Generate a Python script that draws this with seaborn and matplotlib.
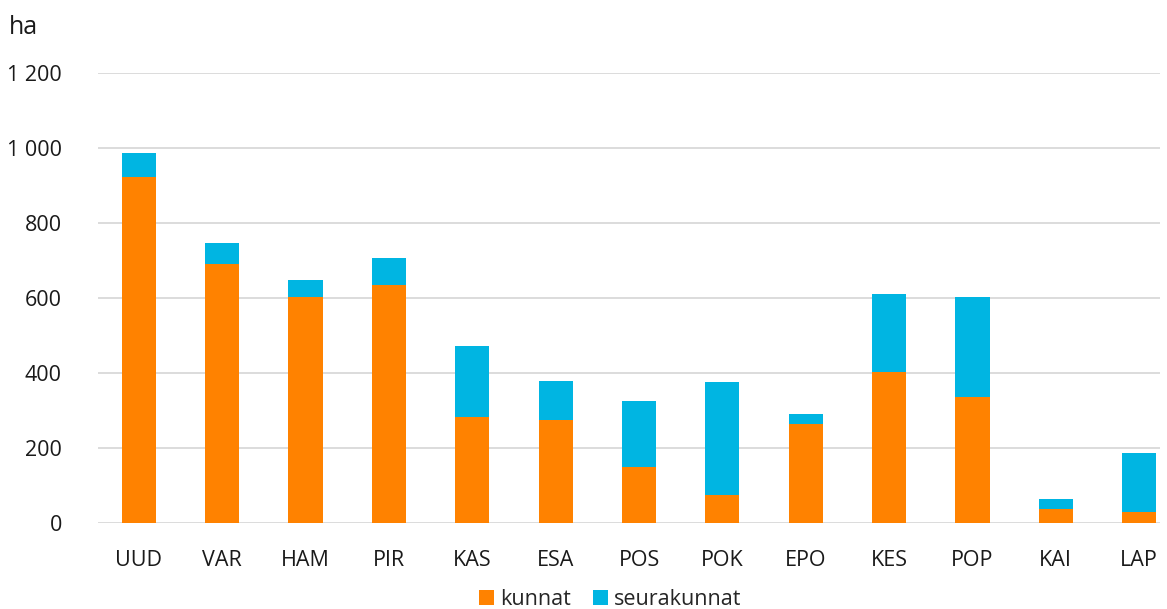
#!/usr/bin/env python3

import numpy as np
import pandas as pd
import matplotlib
matplotlib.use("Agg")
import matplotlib.pyplot as plt
import seaborn as sns
from matplotlib.ticker import FuncFormatter

# data
regions = ["UUD", "VAR", "HAM", "PIR", "KAS", "ESA", "POS",
           "POK", "EPO", "KES", "POP", "KAI", "LAP"]
kunnat = [924, 690, 602, 636, 283, 275, 149, 74, 263, 403, 335, 37, 31]
seurakunnat = [64, 58, 45, 72, 189, 103, 176, 302, 28, 207, 267, 27, 155]

orange = "#FF8200"
blue = "#00B5E2"

sns.set_theme(style="white")
plt.rcParams["font.family"] = ["Open Sans", "DejaVu Sans"]

df = pd.DataFrame({"region": regions, "kunnat": kunnat,
                   "seurakunnat": seurakunnat})
df["total"] = df["kunnat"] + df["seurakunnat"]

fig = plt.figure(figsize=(11.67, 6.09), dpi=100)
ax = fig.add_axes([0.084, 0.141, 0.91, 0.739])

# stacked bars: draw total first, then kunnat on top of it
sns.barplot(data=df, x="region", y="total", color=blue, width=0.41,
            saturation=1, linewidth=0, ax=ax, label="seurakunnat", zorder=3)
sns.barplot(data=df, x="region", y="kunnat", color=orange, width=0.41,
            saturation=1, linewidth=0, ax=ax, label="kunnat", zorder=3)

ax.set_ylim(0, 1200)
ax.set_xlim(-0.49, 12.25)
ax.set_yticks(np.arange(0, 1201, 200))
ax.yaxis.set_major_formatter(FuncFormatter(lambda v, p: f"{int(v):,}".replace(",", " ")))
ax.grid(axis="y", color="#D9D9D9", linewidth=1.3, zorder=0)
ax.set_axisbelow(True)
for s in ax.spines.values():
    s.set_visible(False)
ax.set_xlabel("")
ax.set_ylabel("")
ax.tick_params(axis="y", labelsize=15.5, pad=26, colors="#1a1a1a", length=0)
ax.tick_params(axis="x", labelsize=15.5, pad=19, colors="#1a1a1a", length=0)

fig.text(0.008, 0.955, "ha", fontsize=18, color="#1a1a1a", va="center")

handles, labels = ax.get_legend_handles_labels()
order = [labels.index("kunnat"), labels.index("seurakunnat")]
ax.legend([handles[i] for i in order], [labels[i] for i in order],
          loc="center", bbox_to_anchor=(0.523, 0.016), bbox_transform=fig.transFigure,
          ncol=2, frameon=False, fontsize=15.5, handlelength=0.7, handleheight=0.7,
          handletextpad=0.3, columnspacing=1.0)

fig.savefig("out.png", dpi=100)
